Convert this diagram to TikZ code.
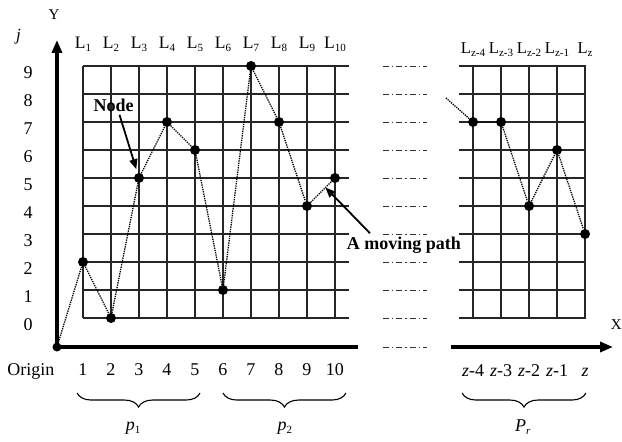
\documentclass[tikz,border=0pt]{standalone}
\usepackage{fontspec}
\setmainfont{Liberation Serif}
\usetikzlibrary{arrows.meta,decorations.pathreplacing}
\newcommand{\lsub}[1]{\raisebox{-3pt}{\fontsize{11}{11}\selectfont #1}}

\begin{document}
\begin{tikzpicture}[
  x=28pt,y=28pt,
  font=\fontsize{18}{20}\selectfont,
  gridline/.style={black!85,line width=1.2pt},
  gapline/.style={black!80,line width=0.9pt,
                  dash pattern=on 6pt off 3pt on 1.5pt off 3pt},
  axis/.style={line width=3.4pt},
  dot/.style={circle,fill=black,inner sep=0pt,minimum size=10pt},
  track/.style={densely dotted,line width=1.3pt},
  tag/.style={font=\fontsize{18}{20}\selectfont\bfseries},
  pointer/.style={line width=1.8pt,-{Triangle[length=10pt,width=8pt]}},
  lvl/.style={anchor=base,font=\fontsize{17.5}{18}\selectfont},
  brace/.style={decorate,decoration={brace,mirror,amplitude=14pt},line width=1.1pt}
]
  \useasboundingbox (-1.964,-4.393) rectangle (20.25,11.357);

  % left grid, columns L1..L10
  \foreach \i in {1,...,10}
    \draw[gridline] (\i,0)--(\i,9);
  \foreach \k in {0,...,9}
    \draw[gridline] (1,\k)--(10.5,\k);
  % right grid, columns Lz-4..Lz
  \foreach \i in {0,...,4}
    \draw[gridline] (14.93+\i,0)--(14.93+\i,9);
  \foreach \k in {0,...,9}
    \draw[gridline] (14.43,\k)--(18.95,\k);
  % gap between the grids
  \foreach \k in {-1.036,0,1,...,9}
    \draw[gapline] (11.71,\k)--(13.29,\k);

  % axes
  \node[dot,minimum size=9pt] (origin) at (0.071,-1.036) {};
  \coordinate (ytip) at (0.071,9.93);
  \coordinate (xcut) at (10.82,-1.036);
  \coordinate (xres) at (14.14,-1.036);
  \coordinate (xtip) at (19.93,-1.036);
  \draw[axis,-{Triangle[length=13pt,width=10pt]}] (origin.center)--(ytip);
  \draw[axis] (origin.center)--(xcut);
  \draw[axis,-{Triangle[length=13pt,width=10pt]}] (xres)--(xtip);
  \node[font=\fontsize{15}{16}\selectfont] (ylbl) at (-0.03,10.82) {Y};
  \node[font=\fontsize{15}{16}\selectfont] (xlbl) at (20.05,-0.25) {X};
  \node[font=\fontsize{17}{18}\selectfont\itshape] (jlbl) at (-1.3,10.04) {j};

  \foreach \k in {0,...,9}
    \node (lev\k) at (-0.96,\k-0.25) {\k};
  \node[anchor=base] (orilbl) at (-0.857,-2.04) {Origin};
  \foreach \i in {1,...,10}
    \node[anchor=base] (col\i) at (\i,-2.04) {\i};
  \foreach \i/\t in {0/4,1/3,2/2,3/1}
    \node[anchor=base] (rcol\i) at (14.93+\i,-2.1) {\textit{z}-\t};
  \node[anchor=base] (rcol4) at (18.93,-2.1) {\textit{z}};

  \foreach \i in {1,...,10}
    \node[lvl] (lay\i) at (\i,9.61) {L\lsub{\i}};
  \foreach \i/\t in {0/z-4,1/z-3,2/z-2,3/z-1,4/z}
    \node[lvl,font=\fontsize{16.5}{18}\selectfont] (rlay\i) at (14.93+\i,9.46) {L\lsub{\t}};

  % path nodes
  \foreach \i/\k in {1/2,2/0,3/5,4/7,5/6,6/1,7/9,8/7,9/4,10/5}
    \node[dot] (d\i) at (\i,\k) {};
  \foreach \i/\k in {0/7,1/7,2/4,3/6,4/3}
    \node[dot] (r\i) at (14.93+\i,\k) {};
  \coordinate (rin) at (13.96,7.86);
  \draw[track] (origin)--(d1)--(d2)--(d3)--(d4)--(d5)--(d6)--(d7)--(d8)--(d9)--(d10);
  \draw[track] (rin)--(r0)--(r1)--(r2)--(r3)--(r4);

  % labels with arrows
  \node[tag] (nodetag) at (2.09,7.61) {Node};
  \draw[pointer,shorten >=4pt] ([xshift=6pt]nodetag.south)--(d3);
  \node[tag] (pathtag) at (12.46,2.61) {A moving path};
  \path (d9.center)--(d10.center) coordinate[pos=0.66] (pathpt);
  \draw[pointer] ([xshift=-34pt]pathtag.north)--(pathpt);

  % braces
  \coordinate (b1l) at (0.79,-2.68);  \coordinate (b1r) at (5.18,-2.68);
  \coordinate (b2l) at (6.0,-2.68);   \coordinate (b2r) at (10.39,-2.68);
  \coordinate (b3l) at (14.54,-2.68); \coordinate (b3r) at (18.96,-2.68);
  \draw[brace] (b1l)--(b1r);
  \draw[brace] (b2l)--(b2r);
  \draw[brace] (b3l)--(b3r);
  \node (p1) at (2.79,-3.93) {\textit{p}\lsub{1}};
  \node (p2) at (8.21,-3.93) {\textit{p}\lsub{2}};
  \node (pr) at (16.71,-3.9) {\textit{P}\lsub{\textit{r}}};
\end{tikzpicture}
\end{document}
